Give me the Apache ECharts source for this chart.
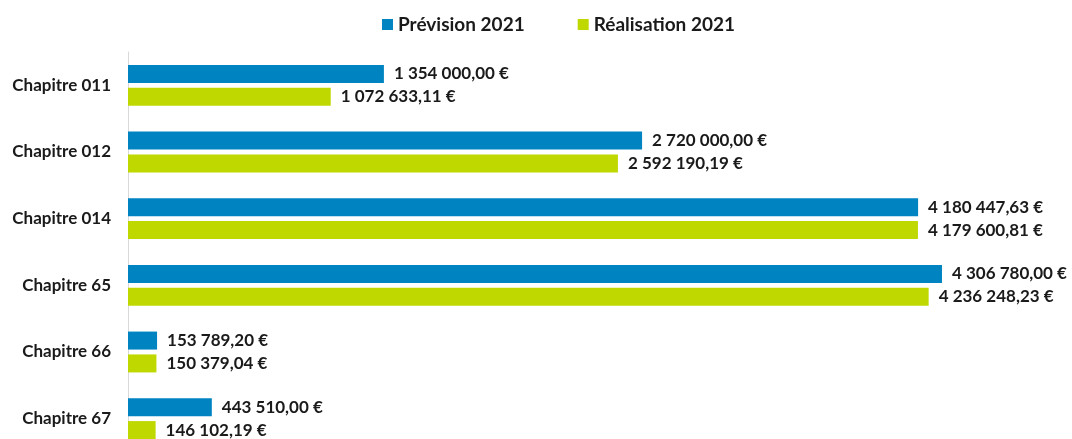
<!DOCTYPE html>
<html><head><meta charset="utf-8">
<script src="https://cdn.jsdelivr.net/npm/echarts@6/dist/echarts.min.js"></script>
<style>html,body{margin:0;padding:0;background:#fff}#c{width:1072px;height:439px}</style>
</head><body><div id="c"></div>
<script>
const categories = ['Chapitre 011','Chapitre 012','Chapitre 014','Chapitre 65','Chapitre 66','Chapitre 67'];
const prevision = [1354000.00, 2720000.00, 4180447.63, 4306780.00, 153789.20, 443510.00];
const realisation = [1072633.11, 2592190.19, 4179600.81, 4236248.23, 150379.04, 146102.19];
const seriesNames = ['Prévision 2021','Réalisation 2021'];

function fmt(v){
  const parts = v.toFixed(2).split('.');
  const int = parts[0].replace(/\B(?=(\d{3})+(?!\d))/g, ' ');
  return int + ',' + parts[1] + ' €';
}
const font = 'Lato, "Open Sans", sans-serif';
const chart = echarts.init(document.getElementById('c'));
const lbl = {show:true, position:'right', distance:10, formatter:p=>fmt(p.value), color:'#1a1a1a', fontFamily:font, fontWeight:'bold', fontSize:17};
chart.setOption({
  animation:false,
  legend:{top:10, left:377, itemWidth:11, itemHeight:11, itemGap:53, icon:'rect',
    textStyle:{fontFamily:font, fontWeight:'bold', fontSize:19, color:'#1a1a1a'}, data:seriesNames},
  grid:{left:128, top:52, bottom:-13, right:93.5, outerBoundsMode:'none', containLabel:false},
  xAxis:{type:'value', min:0, max:4500000, show:false},
  yAxis:{type:'category', data:categories, inverse:true,
    axisLine:{lineStyle:{color:'#d9d9d9', width:1}}, axisTick:{show:false},
    axisLabel:{margin:17, fontFamily:font, fontWeight:'bold', fontSize:17, color:'#1a1a1a'}},
  series:[
    {name:seriesNames[0], type:'bar', data:prevision, barWidth:18, barGap:'27%', itemStyle:{color:'#0083C1'}, label:lbl},
    {name:seriesNames[1], type:'bar', data:realisation, barWidth:18, itemStyle:{color:'#BED800'}, label:lbl}
  ]
});
</script></body></html>
